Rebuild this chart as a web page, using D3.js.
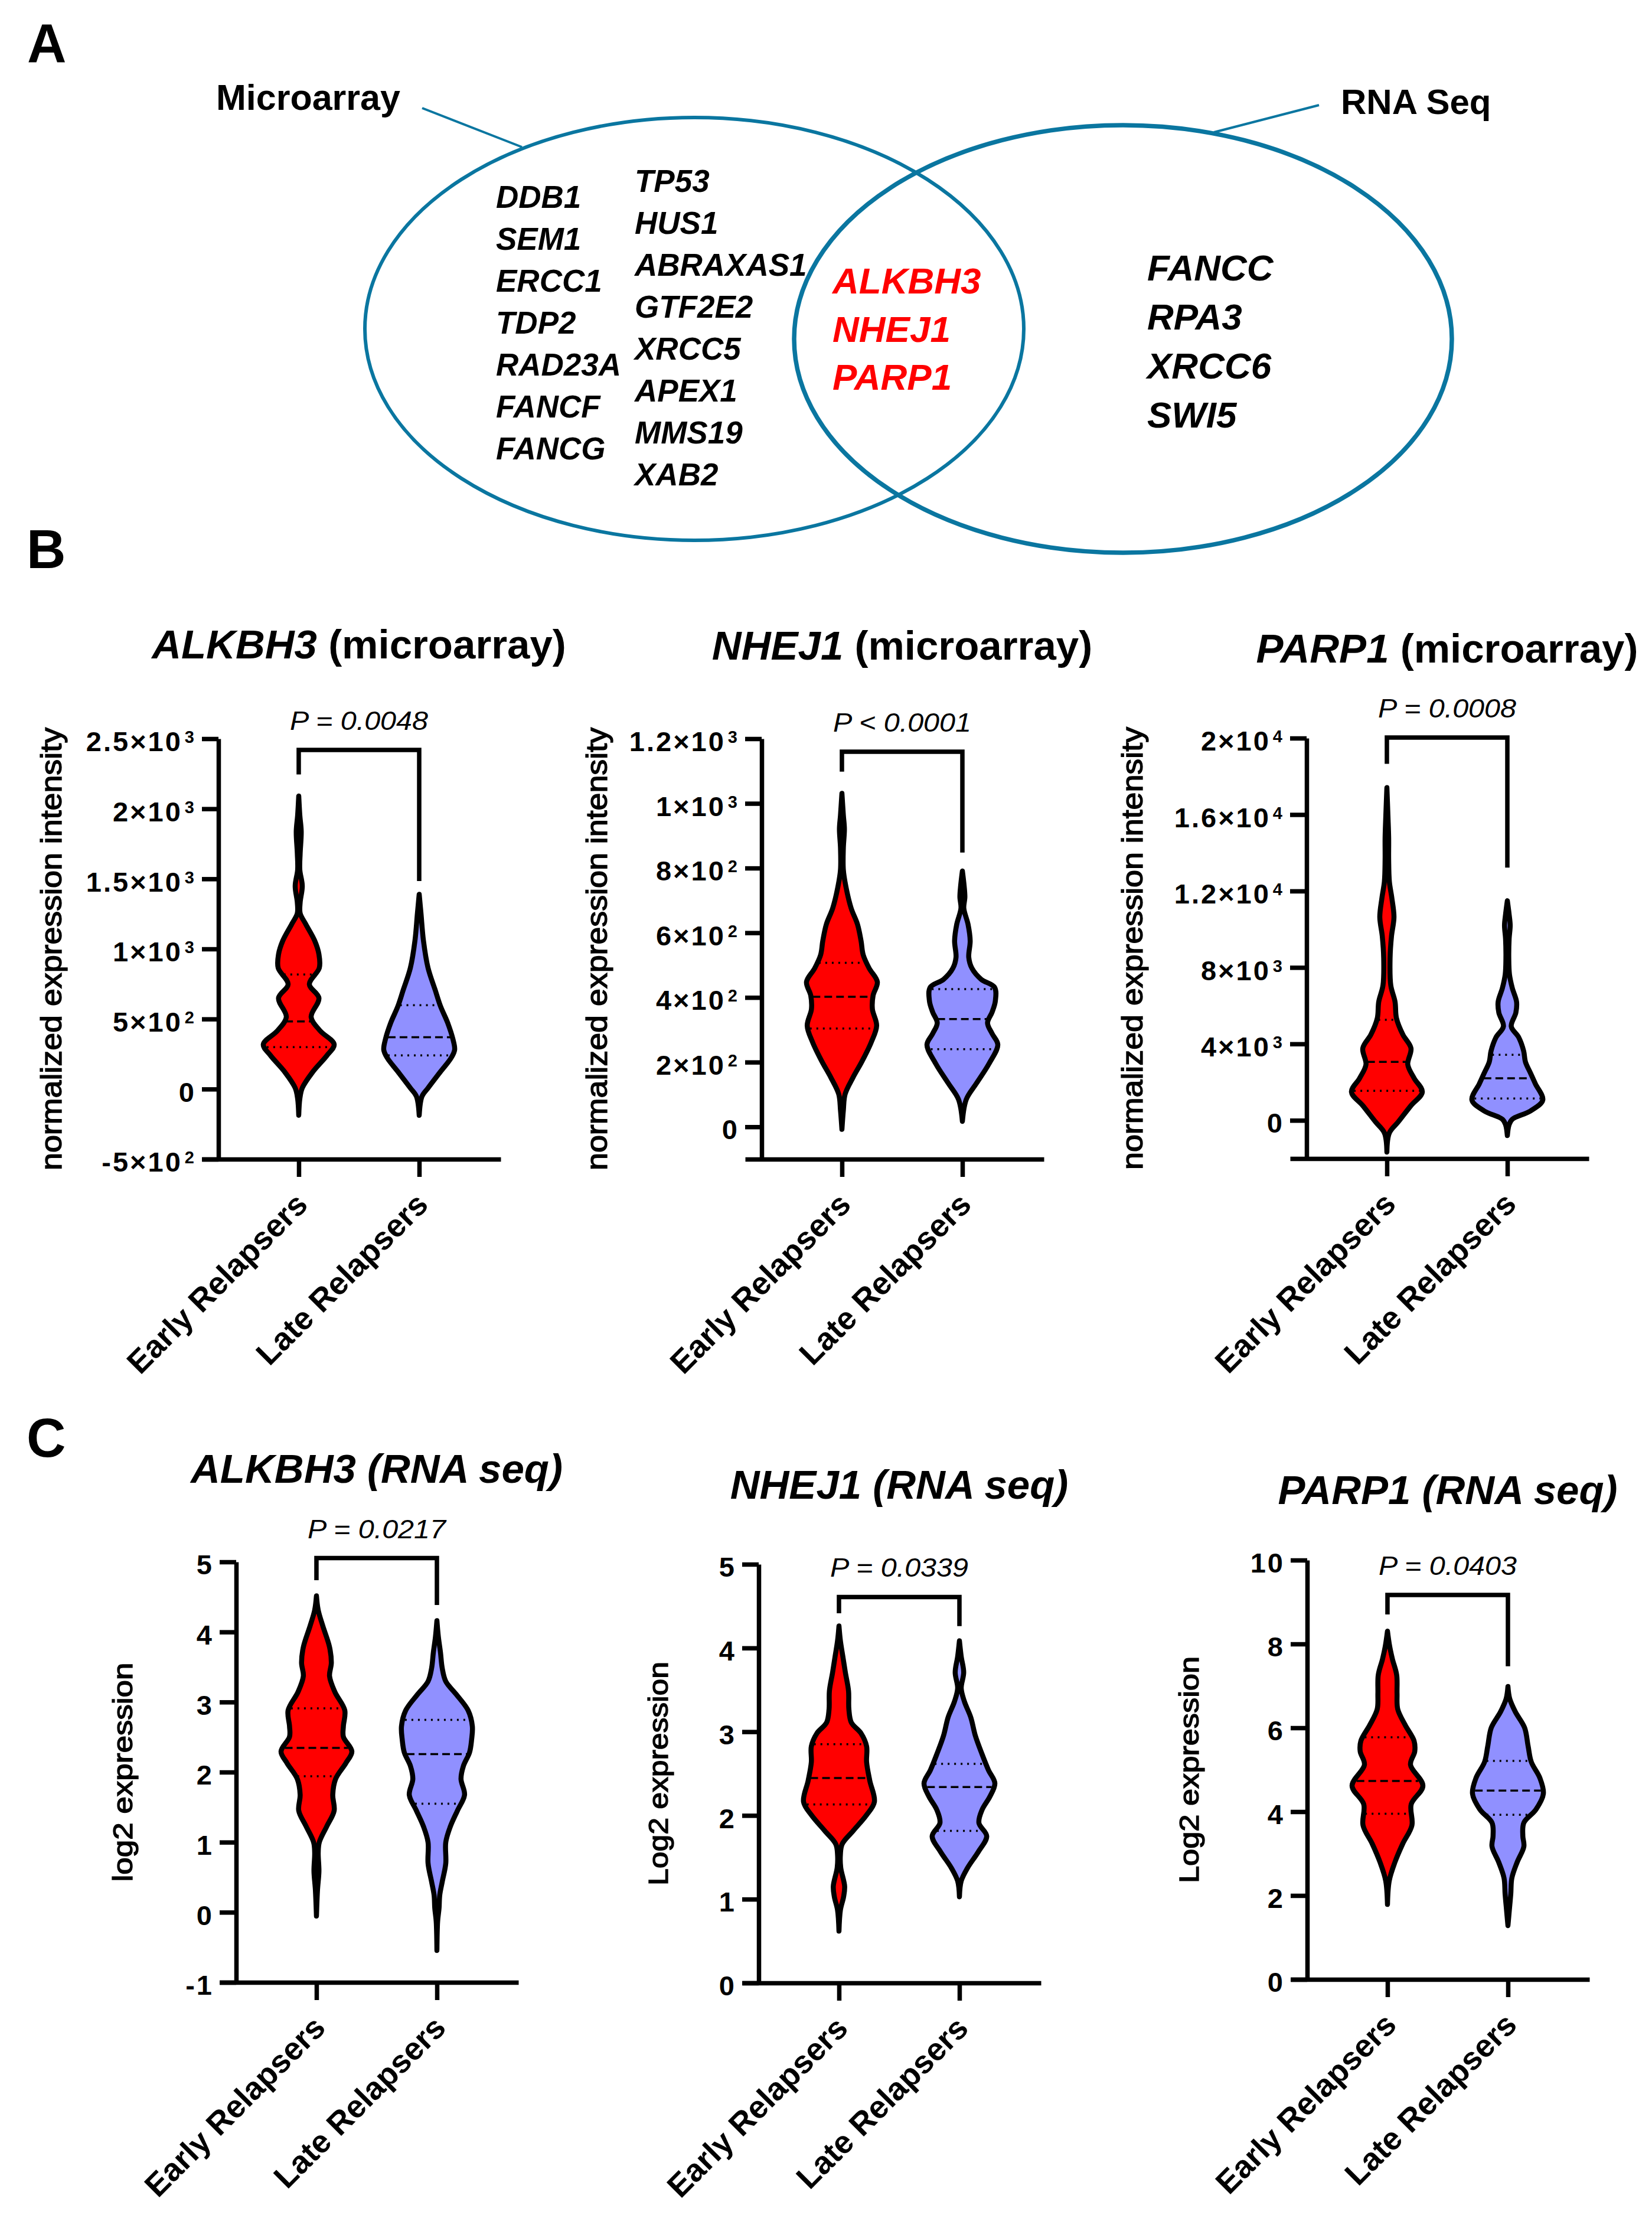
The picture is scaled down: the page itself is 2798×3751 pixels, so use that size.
<!DOCTYPE html>
<html>
<head>
<meta charset="utf-8">
<script src="https://cdn.jsdelivr.net/npm/d3@7"></script>
<style>
  body { margin: 0; background: #fff; }
  svg text { font-family: "Liberation Sans", Arial, sans-serif; }
</style>
</head>
<body>
<div id="fig"></div>
<script>
// ---- data ----
var groups = ["Early Relapsers", "Late Relapsers"];

// venn gene lists
var microarrayColA = ["DDB1", "SEM1", "ERCC1", "TDP2", "RAD23A", "FANCF", "FANCG"];
var microarrayColB = ["TP53", "HUS1", "ABRAXAS1", "GTF2E2", "XRCC5", "APEX1", "MMS19", "XAB2"];
var sharedGenes = ["ALKBH3", "NHEJ1", "PARP1"];
var rnaSeqGenes = ["FANCC", "RPA3", "XRCC6", "SWI5"];

// violin profiles: [value, relative density]
var alkbh3MicroEarly = [[2091,0],[1955,.03],[1838,.07],[1682,.04],[1566,.03],[1449,.10],[1332,.04],[1254,.04],[1176,.20],[1059,.45],[962,.57],[864,.58],[748,.30],[650,.57],[514,.35],[417,.60],[319,1.0],[241,.80],[124,.40],[8,.10],[-70,.03],[-187,0]];
var alkbh3MicroLate = [[1390,0],[1254,.05],[1059,.12],[864,.25],[708,.45],[592,.60],[475,.80],[358,.95],[280,1.0],[222,.90],[124,.60],[8,.25],[-51,.08],[-187,0]];
var nhej1MicroEarly = [[1031,0],[964,.04],[921,.07],[862,.04],[795,.04],[744,.11],[676,.26],[626,.44],[575,.54],[532,.60],[490,.77],[448,1.0],[406,.88],[364,.86],[313,.98],[262,.83],[203,.57],[152,.31],[101,.09],[51,.04],[-8,0]];
var nhej1MicroLate = [[791,0],[744,.05],[710,.07],[676,.04],[626,.16],[575,.22],[524,.18],[490,.27],[456,.53],[431,.91],[389,.93],[355,.84],[321,.71],[288,.84],[254,1.0],[195,.75],[135,.40],[85,.11],[17,0]];
var parp1MicroEarly = [[17409,0],[15922,.03],[14781,.05],[13638,.05],[12494,.07],[11635,.14],[10636,.20],[9635,.13],[8491,.09],[7063,.11],[6204,.23],[5348,.27],[4491,.45],[3774,.68],[2918,.59],[2204,.77],[1487,1.0],[773,.68],[-83,.32],[-655,.07],[-1657,0]];
var parp1MicroLate = [[11492,0],[10778,.05],[10206,.08],[9492,.05],[8491,.04],[7635,.06],[6921,.14],[6204,.26],[5632,.24],[4918,.11],[4346,.32],[3632,.46],[3060,.51],[2488,.65],[1916,.79],[1060,1.0],[488,.65],[59,.14],[-226,.05],[-797,0]];
var alkbh3RnaEarly = [[4.515,0],[4.311,.05],[4.086,.18],[3.784,.37],[3.559,.42],[3.37,.37],[3.144,.52],[2.881,.80],[2.655,.76],[2.505,.76],[2.294,1.0],[2.128,.83],[1.902,.54],[1.676,.46],[1.451,.50],[1.225,.29],[0.999,.08],[0.848,.05],[0.585,.07],[0.322,.03],[-0.055,0]];
var alkbh3RnaLate = [[4.161,0],[3.935,.04],[3.709,.10],[3.483,.15],[3.295,.25],[3.107,.55],[2.881,.88],[2.655,1.0],[2.467,.98],[2.279,.92],[2.09,.75],[1.902,.68],[1.676,.78],[1.451,.58],[1.225,.38],[0.999,.25],[0.698,.25],[0.435,.15],[0.246,.08],[0.058,.06],[-0.13,.02],[-0.544,0]];
var nhej1RnaEarly = [[4.263,0],[4.086,.04],[3.897,.11],[3.708,.18],[3.487,.27],[3.267,.28],[3.109,.35],[2.983,.62],[2.825,.78],[2.636,.78],[2.415,.87],[2.163,1.0],[2.006,.78],[1.816,.40],[1.658,.09],[1.533,.04],[1.375,.05],[1.154,.16],[1.028,.13],[0.87,.04],[0.618,0]];
var nhej1RnaLate = [[4.086,0],[3.897,.05],[3.708,.12],[3.519,.05],[3.361,.14],[3.172,.32],[2.951,.45],[2.73,.64],[2.541,.82],[2.384,1.0],[2.226,.86],[2.068,.64],[1.911,.55],[1.753,.77],[1.564,.53],[1.375,.23],[1.217,.05],[1.028,0]];
var parp1RnaEarly = [[8.306,0],[7.953,.06],[7.639,.14],[7.26,.26],[6.821,.27],[6.443,.29],[6.066,.50],[5.689,.75],[5.437,.77],[5.121,.65],[4.618,1.0],[4.177,.67],[3.675,.69],[3.234,.43],[2.794,.21],[2.354,.05],[1.787,0]];
var parp1RnaLate = [[6.985,0],[6.694,.05],[6.38,.21],[6.003,.47],[5.562,.57],[5.185,.66],[4.807,.90],[4.43,1.0],[4.052,.79],[3.738,.45],[3.423,.42],[3.172,.45],[2.794,.26],[2.415,.11],[2.038,.08],[1.661,.04],[1.283,0]];

// quartiles [Q1, median, Q3]
var alkbh3MicroQ = [[300, 483, 818], [241, 370, 599]];
var nhej1MicroQ = [[304, 402, 507], [240, 333, 426]];
var parp1MicroQ = [[1546, 3060, 5261], [1144, 2204, 3431]];
var alkbh3RnaQ = [[1.94, 2.346, 2.911], [1.549, 2.256, 2.746]];
var nhej1RnaQ = [[2.131, 2.447, 2.85], [1.816, 2.34, 2.617]];
var parp1RnaQ = [[3.951, 4.732, 5.776], [3.927, 4.505, 5.21]];

// axes
var alkbh3MicroTicks = [-500, 0, 500, 1000, 1500, 2000, 2500];
var alkbh3MicroLabels = ["-5×10^2", "0", "5×10^2", "1×10^3", "1.5×10^3", "2×10^3", "2.5×10^3"];
var nhej1MicroTicks = [0, 200, 400, 600, 800, 1000, 1200];
var nhej1MicroLabels = ["0", "2×10^2", "4×10^2", "6×10^2", "8×10^2", "1×10^3", "1.2×10^3"];
var parp1MicroTicks = [0, 4000, 8000, 12000, 16000, 20000];
var parp1MicroLabels = ["0", "4×10^3", "8×10^3", "1.2×10^4", "1.6×10^4", "2×10^4"];
var alkbh3RnaTicks = [-1, 0, 1, 2, 3, 4, 5];
var nhej1RnaTicks = [0, 1, 2, 3, 4, 5];
var parp1RnaTicks = [0, 2, 4, 6, 8, 10];

// significance: p text and bracket [top, left end, right end]
var pTexts = ["P = 0.0048", "P < 0.0001", "P = 0.0008", "P = 0.0217", "P = 0.0339", "P = 0.0403"];
var alkbh3MicroBracket = [2420, 2245, 1485];
var nhej1MicroBracket = [1160, 1098, 848];
var parp1MicroBracket = [20028, 18656, 13228];
var alkbh3RnaBracket = [5.054, 4.739, 4.385];
var nhej1RnaBracket = [4.609, 4.414, 4.262];
var parp1RnaBracket = [9.17, 8.704, 7.47];

// ---- layout ----
var W = 2798, H = 3751;
var svg = d3.select("#fig").append("svg").attr("width", W).attr("height", H);
svg.append("rect").attr("width", W).attr("height", H).attr("fill", "#fff");

var panels = [
  {gene: "ALKBH3", rna: false, early: alkbh3MicroEarly, late: alkbh3MicroLate, q: alkbh3MicroQ, ticks: alkbh3MicroTicks, labels: alkbh3MicroLabels, p: pTexts[0], br: alkbh3MicroBracket,
   ylab: "normalized expression intensity", axisX: 370, top: 1251, bottom: 1963, domain: [-500, 2500], titleY: 1115, labDx: -281, labLen: 750},
  {gene: "NHEJ1", rna: false, early: nhej1MicroEarly, late: nhej1MicroLate, q: nhej1MicroQ, ticks: nhej1MicroTicks, labels: nhej1MicroLabels, p: pTexts[1], br: nhej1MicroBracket,
   ylab: "normalized expression intensity", axisX: 1290, top: 1251, bottom: 1963, domain: [-100, 1200], titleY: 1117, labDx: -277, labLen: 750},
  {gene: "PARP1", rna: false, early: parp1MicroEarly, late: parp1MicroLate, q: parp1MicroQ, ticks: parp1MicroTicks, labels: parp1MicroLabels, p: pTexts[2], br: parp1MicroBracket,
   ylab: "normalized expression intensity", axisX: 2213, top: 1250, bottom: 1962, domain: [-2000, 20000], titleY: 1122, labDx: -293, labLen: 750},
  {gene: "ALKBH3", rna: true, early: alkbh3RnaEarly, late: alkbh3RnaLate, q: alkbh3RnaQ, ticks: alkbh3RnaTicks, labels: alkbh3RnaTicks.map(String), p: pTexts[3], br: alkbh3RnaBracket,
   ylab: "log2 expression", axisX: 400, top: 2645, bottom: 3357, domain: [-1, 5], titleY: 2511, labDx: -190, labLen: 371},
  {gene: "NHEJ1", rna: true, early: nhej1RnaEarly, late: nhej1RnaLate, q: nhej1RnaQ, ticks: nhej1RnaTicks, labels: nhej1RnaTicks.map(String), p: pTexts[4], br: nhej1RnaBracket,
   ylab: "Log2 expression", axisX: 1285, top: 2649, bottom: 3358, domain: [0, 5], titleY: 2538, labDx: -168, labLen: 379},
  {gene: "PARP1", rna: true, early: parp1RnaEarly, late: parp1RnaLate, q: parp1RnaQ, ticks: parp1RnaTicks, labels: parp1RnaTicks.map(String), p: pTexts[5], br: parp1RnaBracket,
   ylab: "Log2 expression", axisX: 2214, top: 2642, bottom: 3352, domain: [0, 10], titleY: 2547, labDx: -198, labLen: 384}
];

var fills = ["#ff0000", "#9090ff"];

// panel letters
[["A", 46, 105], ["B", 45, 962], ["C", 45, 2467]].forEach(function (d) {
  svg.append("text").attr("x", d[1]).attr("y", d[2]).attr("font-size", 92)
    .attr("font-weight", "bold").text(d[0]);
});

// ---- venn ----
var vennColor = "#0a76a0";
svg.append("ellipse").attr("cx", 1176).attr("cy", 557).attr("rx", 558).attr("ry", 358)
  .attr("fill", "none").attr("stroke", vennColor).attr("stroke-width", 6);
svg.append("ellipse").attr("cx", 1902).attr("cy", 574).attr("rx", 557).attr("ry", 362)
  .attr("fill", "none").attr("stroke", vennColor).attr("stroke-width", 7.5);
svg.append("line").attr("x1", 715).attr("y1", 183).attr("x2", 884).attr("y2", 249)
  .attr("stroke", vennColor).attr("stroke-width", 4);
svg.append("line").attr("x1", 2234).attr("y1", 178).attr("x2", 2056).attr("y2", 224)
  .attr("stroke", vennColor).attr("stroke-width", 4);
svg.append("text").attr("x", 366).attr("y", 186).attr("font-size", 61).attr("font-weight", "bold").text("Microarray");
svg.append("text").attr("x", 2271).attr("y", 193).attr("font-size", 60).attr("font-weight", "bold").text("RNA Seq");

function geneColumn(list, x, y0, step, size, color) {
  svg.append("g").selectAll("text").data(list).enter().append("text")
    .attr("x", x).attr("y", function (d, i) { return y0 + i * step; })
    .attr("font-size", size).attr("font-weight", "bold").attr("font-style", "italic")
    .attr("fill", color).text(function (d) { return d; });
}
geneColumn(microarrayColA, 840, 351.5, 71, 53, "#000");
geneColumn(microarrayColB, 1075, 325, 71, 53, "#000");
geneColumn(sharedGenes, 1410, 497, 81.5, 62, "#ff0000");
geneColumn(rnaSeqGenes, 1943, 474.5, 83, 62, "#000");

// ---- violins ----
function densAt(prof, v) {
  for (var i = 0; i < prof.length - 1; i++) {
    var a = prof[i], b = prof[i + 1];
    if (v <= a[0] && v >= b[0]) {
      var t = (a[0] - v) / (a[0] - b[0]);
      return a[1] + t * (b[1] - a[1]);
    }
  }
  return 0;
}

panels.forEach(function (P) {
  var g = svg.append("g");
  var y = d3.scaleLinear().domain(P.domain).range([P.bottom, P.top]);
  var x = d3.scalePoint().domain(groups).range([P.axisX - 28, P.axisX + 478]).padding(0.74).align(0.543);
  var w = d3.scaleLinear().domain([0, 1]).range([0, 60]);
  var mid = (x(groups[0]) + x(groups[1])) / 2;

  // title
  var title = g.append("text").attr("x", mid).attr("y", P.titleY).attr("text-anchor", "middle")
    .attr("font-size", 69).attr("font-weight", "bold");
  if (P.rna) {
    title.attr("font-style", "italic").text(P.gene + " (RNA seq)");
  } else {
    title.append("tspan").attr("font-style", "italic").text(P.gene);
    title.append("tspan").text(" (microarray)");
  }

  // y axis
  var ya = g.append("g").attr("transform", "translate(" + P.axisX + ",0)")
    .call(d3.axisLeft(y).tickValues(P.ticks).tickSize(28).tickSizeOuter(0).tickPadding(10).tickFormat(""));
  ya.attr("font-size", 47).attr("font-weight", "bold").attr("font-family", null);
  ya.select(".domain").attr("stroke-width", 7.5);
  ya.selectAll(".tick line").attr("stroke-width", 7.5);
  ya.selectAll(".tick text").attr("dy", "0.44em").attr("letter-spacing", 3).each(function (d) {
    var parts = P.labels[P.ticks.indexOf(d)].split("^");
    var t = d3.select(this);
    t.append("tspan").text(parts[0]);
    if (parts[1]) t.append("tspan").attr("font-size", 29).attr("dx", 4).attr("dy", -14).text(parts[1]);
  });

  // x axis
  var xa = g.append("g").attr("transform", "translate(0," + P.bottom + ")")
    .call(d3.axisBottom(x).tickSize(30).tickSizeOuter(0).tickFormat(""));
  xa.select(".domain").attr("stroke-width", 7.5);
  xa.selectAll(".tick line").attr("stroke-width", 7.5);
  groups.forEach(function (gr) {
    g.append("text").attr("transform", "translate(" + (x(gr) + 18) + "," + (P.bottom + 80) + ") rotate(-45)")
      .attr("text-anchor", "end").attr("font-size", 54).attr("font-weight", "bold").text(gr);
  });

  // y label
  g.append("text").attr("transform", "translate(" + (P.axisX + P.labDx) + "," + ((P.top + P.bottom) / 2) + ") rotate(-90)")
    .attr("text-anchor", "middle").attr("dy", "0.3em").attr("font-size", P.rna ? 46 : 50)
    .attr("stroke", "#000").attr("stroke-width", 1.4)
    .attr("textLength", P.labLen).attr("lengthAdjust", "spacingAndGlyphs").text(P.ylab);

  // violins
  [P.early, P.late].forEach(function (prof, k) {
    var cx = x(groups[k]);
    var area = d3.area().curve(d3.curveCatmullRom)
      .y(function (d) { return y(d[0]); })
      .x0(function (d) { return cx - w(d[1]); })
      .x1(function (d) { return cx + w(d[1]); });
    g.append("path").attr("d", area(prof)).attr("fill", fills[k]);
    P.q[k].forEach(function (v, j) {
      var hw = w(densAt(prof, v)) - 3;
      g.append("line").attr("x1", cx - hw).attr("x2", cx + hw).attr("y1", y(v)).attr("y2", y(v))
        .attr("stroke", "#000").attr("stroke-width", 3.5)
        .attr("stroke-dasharray", j === 1 ? "13,7" : "3,8");
    });
    g.append("path").attr("d", area(prof)).attr("fill", "none").attr("stroke", "#000")
      .attr("stroke-width", 8.5).attr("stroke-linejoin", "round").attr("stroke-linecap", "round");
  });

  // significance bracket
  var xe = x(groups[0]), xl = x(groups[1]);
  g.append("path")
    .attr("d", "M" + xe + "," + y(P.br[1]) + "V" + y(P.br[0]) + "H" + xl + "V" + y(P.br[2]))
    .attr("fill", "none").attr("stroke", "#000").attr("stroke-width", 7.5);
  g.append("text").attr("x", mid).attr("y", y(P.br[0]) - 34).attr("text-anchor", "middle")
    .attr("font-size", 45).attr("font-style", "italic")
    .attr("textLength", 234).attr("lengthAdjust", "spacingAndGlyphs").text(P.p);
});
</script>
</body>
</html>
